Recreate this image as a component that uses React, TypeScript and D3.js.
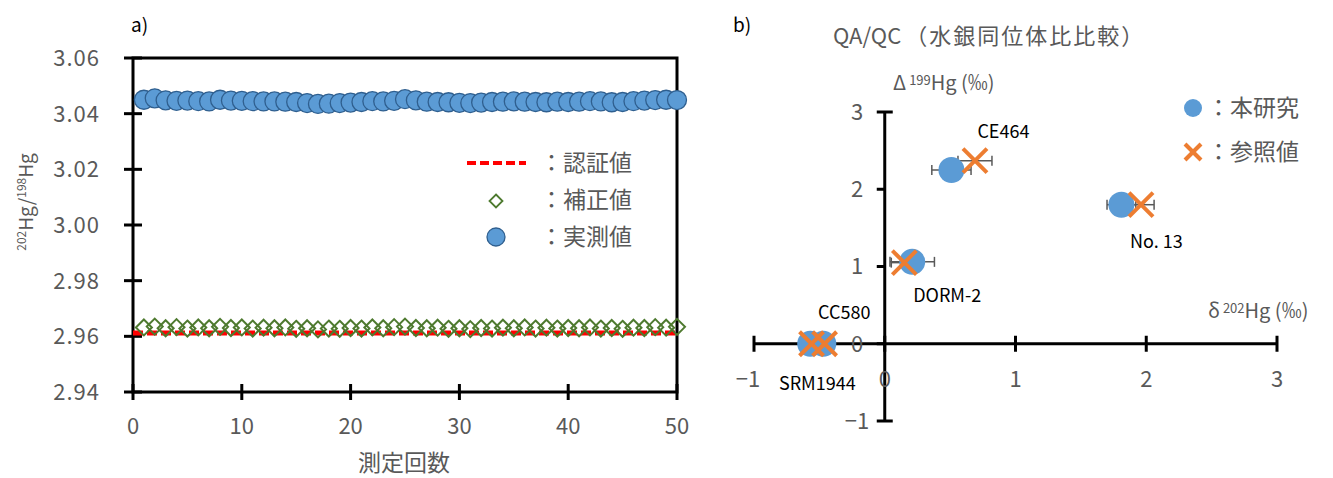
import React from "react";
import * as d3 from "d3";

// ---- a) 202Hg/198Hg ratio over repeated measurements ----
const runs = d3.range(1, 51);
const measuredRatio = [
  3.0450, 3.0455, 3.0448, 3.0446, 3.0447, 3.0445, 3.0444, 3.0450, 3.0447, 3.0446,
  3.0445, 3.0444, 3.0444, 3.0443, 3.0442, 3.0438, 3.0435, 3.0436, 3.0438, 3.0440,
  3.0442, 3.0445, 3.0444, 3.0446, 3.0452, 3.0448, 3.0443, 3.0442, 3.0441, 3.0439,
  3.0438, 3.0440, 3.0442, 3.0443, 3.0444, 3.0443, 3.0442, 3.0441, 3.0443, 3.0442,
  3.0443, 3.0445, 3.0444, 3.0441, 3.0442, 3.0445, 3.0447, 3.0449, 3.0450, 3.0449,
];
const correctedRatio = [
  2.9632, 2.9635, 2.9629, 2.9633, 2.9628, 2.9632, 2.9629, 2.9634, 2.9630, 2.9632,
  2.9628, 2.9631, 2.9629, 2.9632, 2.9627, 2.9629, 2.9625, 2.9628, 2.9627, 2.9630,
  2.9628, 2.9632, 2.9629, 2.9633, 2.9635, 2.9630, 2.9629, 2.9631, 2.9627, 2.9629,
  2.9626, 2.9630, 2.9628, 2.9631, 2.9629, 2.9632, 2.9628, 2.9631, 2.9628, 2.9630,
  2.9629, 2.9632, 2.9628, 2.9630, 2.9627, 2.9631, 2.9630, 2.9633, 2.9631, 2.9634,
];
const certifiedRatio = 2.9612;
const ratioTicks = [2.94, 2.96, 2.98, 3.0, 3.02, 3.04, 3.06];
const runTicks = [0, 10, 20, 30, 40, 50];

// ---- b) QA/QC isotope comparison ----
const samples = ["CE464", "No. 13", "DORM-2", "CC580", "SRM1944"];
const studyD202 = [0.51, 1.81, 0.21, -0.57, -0.47];
const studyD199 = [2.25, 1.8, 1.06, 0.0, 0.0];
const studyErr = [0.15, 0.11, 0.17, 0.04, 0.04];
const refD202 = [0.69, 1.96, 0.15, -0.56, -0.46];
const refD199 = [2.37, 1.8, 1.05, 0.0, 0.0];
const refErr = [0.13, 0.1, 0.1, 0.04, 0.04];
const isoTicks = [-1, 0, 1, 2, 3];

const GRAY = "#595959";
const BLUE = "#5b9bd5";
const ORANGE = "#ed7d31";
const GREEN = "#4e7a2f";
const FONT = "'Noto Sans CJK JP', 'Noto Sans', sans-serif";

// label placement relative to the study point
const labelOffset: Record<string, [number, number]> = {
  "CE464": [52, -38],
  "No. 13": [35, 37],
  "DORM-2": [35, 34],
  "CC580": [34, -31],
  "SRM1944": [-6, 40],
};

function Cross({ x, y, s, w }: { x: number; y: number; s: number; w: number }) {
  return (
    <g stroke={ORANGE} strokeWidth={w} strokeLinecap="butt">
      <line x1={x - s} y1={y - s} x2={x + s} y2={y + s} />
      <line x1={x - s} y1={y + s} x2={x + s} y2={y - s} />
    </g>
  );
}

function ErrorBar({ x0, x1, y }: { x0: number; x1: number; y: number }) {
  return (
    <g stroke={GRAY} strokeWidth={1.5}>
      <line x1={x0} y1={y} x2={x1} y2={y} />
      <line x1={x0} y1={y - 5} x2={x0} y2={y + 5} />
      <line x1={x1} y1={y - 5} x2={x1} y2={y + 5} />
    </g>
  );
}

export default function App() {
  // panel a scales
  const xA = d3.scaleLinear().domain([0, 50]).range([133, 677]);
  const yA = d3.scaleLinear().domain([2.94, 3.06]).range([392, 58]);
  // panel b scales
  const xB = d3.scaleLinear().domain([-1, 3]).range([754, 1277]);
  const yB = d3.scaleLinear().domain([-1, 3]).range([421, 112]);

  const diamond = (cx: number, cy: number, r: number) =>
    `M${cx},${cy - r}L${cx + r},${cy}L${cx},${cy + r}L${cx - r},${cy}Z`;

  return (
    <svg
      width={1333}
      height={478}
      style={{ position: "absolute", left: 0, top: 0, background: "#fff" }}
      fontFamily={FONT}
    >
      {/* ===== panel a ===== */}
      <text x={131} y={32} fontSize={19} fill="#000">a)</text>

      {/* frame */}
      <rect x={xA(0)} y={yA(3.06)} width={xA(50) - xA(0)} height={yA(2.94) - yA(3.06)}
        fill="none" stroke="#000" strokeWidth={3} />

      {/* y ticks */}
      {ratioTicks.map((t) => (
        <g key={`ya${t}`}>
          <line x1={xA(0) - 9} x2={xA(0) + 9} y1={yA(t)} y2={yA(t)} stroke="#000" strokeWidth={3} />
          <text x={100} y={yA(t)} dy="0.36em" textAnchor="end" fontSize={22} fill={GRAY}
            letterSpacing={1}>
            {d3.format(".2f")(t)}
          </text>
        </g>
      ))}
      {/* x ticks */}
      {runTicks.map((t) => (
        <g key={`xa${t}`}>
          <line x1={xA(t)} x2={xA(t)} y1={yA(2.94) - 8} y2={yA(2.94) + 8} stroke="#000" strokeWidth={3} />
          <text x={xA(t)} y={426} dy="0.36em" textAnchor="middle" fontSize={22} fill={GRAY}>{t}</text>
        </g>
      ))}
      <text x={404} y={463} dy="0.36em" textAnchor="middle" fontSize={23} fill={GRAY}>測定回数</text>
      <text transform="translate(33,202) rotate(-90)" textAnchor="middle" fontSize={19} fill={GRAY}>
        <tspan fontSize={12} dy="-7">202</tspan>
        <tspan dy="7">Hg/</tspan>
        <tspan fontSize={12} dy="-7">198</tspan>
        <tspan dy="7">Hg</tspan>
      </text>

      {/* certified value */}
      <line x1={xA(0)} x2={xA(50)} y1={yA(certifiedRatio)} y2={yA(certifiedRatio)}
        stroke="#ff0000" strokeWidth={5} strokeDasharray="10 4" />
      {/* corrected values */}
      {runs.map((r, i) => (
        <path key={`c${r}`} d={diamond(xA(r), yA(correctedRatio[i]), 8)} fill="none"
          stroke={GREEN} strokeWidth={2} />
      ))}
      {/* measured values */}
      {runs.map((r, i) => (
        <circle key={`m${r}`} cx={xA(r)} cy={yA(measuredRatio[i])} r={9.5} fill={BLUE}
          stroke="#2f5f8f" strokeWidth={1.3} />
      ))}

      {/* legend a */}
      <line x1={467} x2={526} y1={163} y2={163} stroke="#ff0000" strokeWidth={4} strokeDasharray="9 4" />
      <path d={diamond(496, 201, 6.5)} fill="none" stroke={GREEN} strokeWidth={1.8} />
      <circle cx={496} cy={237} r={9} fill={BLUE} stroke="#2f5f8f" strokeWidth={1.3} />
      {["認証値", "補正値", "実測値"].map((s, i) => (
        <text key={s} x={540} y={163 + i * 37} dy="0.36em" fontSize={23} fill={GRAY}>
          ：{s}
        </text>
      ))}

      {/* ===== panel b ===== */}
      <text x={733} y={32} fontSize={19} fill="#000">b)</text>
      <text x={833} y={36} dy="0.36em" fontSize={22} fill={GRAY}>
        QA/QC<tspan dx="4" letterSpacing={2}>（水銀同位体比比較）</tspan>
      </text>

      {/* axes */}
      <line x1={xB(0)} x2={xB(0)} y1={yB(3)} y2={yB(-1)} stroke="#000" strokeWidth={3} />
      <line x1={xB(-1)} x2={xB(3)} y1={yB(0)} y2={yB(0)} stroke="#000" strokeWidth={3} />
      {isoTicks.map((t) => (
        <g key={`yb${t}`}>
          <line x1={xB(0) - 8} x2={xB(0) + (t === 3 || t === -1 ? 8 : 0)} y1={yB(t)} y2={yB(t)}
            stroke="#000" strokeWidth={3} />
          <text x={857} y={yB(t)} dy="0.36em" textAnchor="middle" fontSize={22} fill={GRAY}>
            {t < 0 ? `−${-t}` : t}
          </text>
        </g>
      ))}
      {isoTicks.map((t) => (
        <g key={`xb${t}`}>
          <line x1={xB(t)} x2={xB(t)} y1={yB(0) - 8} y2={yB(0) + 8} stroke="#000" strokeWidth={3} />
          <text x={t === -1 ? xB(t) - 6 : xB(t)} y={379} dy="0.36em" textAnchor="middle" fontSize={22}
            fill={GRAY}>{t < 0 ? `−${-t}` : t}</text>
        </g>
      ))}
      <text x={893} y={83} dy="0.36em" fontSize={20} fill={GRAY}>
        Δ<tspan fontSize={13} dy="-5" dx="3">199</tspan><tspan dy="5">Hg (‰)</tspan>
      </text>
      <text x={1208} y={311} dy="0.36em" fontSize={20} fill={GRAY}>
        δ<tspan fontSize={13} dy="-5" dx="3">202</tspan><tspan dy="5">Hg (‰)</tspan>
      </text>

      {/* error bars */}
      {samples.map((s, i) => (
        <g key={`eb${s}`}>
          <ErrorBar x0={xB(studyD202[i] - studyErr[i])} x1={xB(studyD202[i] + studyErr[i])} y={yB(studyD199[i])} />
          <ErrorBar x0={xB(refD202[i] - refErr[i])} x1={xB(refD202[i] + refErr[i])} y={yB(refD199[i])} />
        </g>
      ))}
      {/* this study */}
      {samples.map((s, i) => (
        <circle key={`st${s}`} cx={xB(studyD202[i])} cy={yB(studyD199[i])} r={13} fill={BLUE} />
      ))}
      {/* reference values */}
      {samples.map((s, i) => (
        <Cross key={`rf${s}`} x={xB(refD202[i])} y={yB(refD199[i])} s={12} w={4} />
      ))}
      {/* sample names */}
      {samples.map((s, i) => (
        <text key={`lb${s}`} x={xB(studyD202[i]) + labelOffset[s][0]} y={yB(studyD199[i]) + labelOffset[s][1]}
          dy="0.36em" textAnchor="middle" fontSize={18} fill="#000">{s}</text>
      ))}

      {/* legend b */}
      <circle cx={1193} cy={108} r={9} fill={BLUE} />
      <Cross x={1193} y={152} s={8} w={4} />
      <text x={1207} y={108} dy="0.36em" fontSize={23} fill={GRAY}>：本研究</text>
      <text x={1207} y={152} dy="0.36em" fontSize={23} fill={GRAY}>：参照値</text>
    </svg>
  );
}
